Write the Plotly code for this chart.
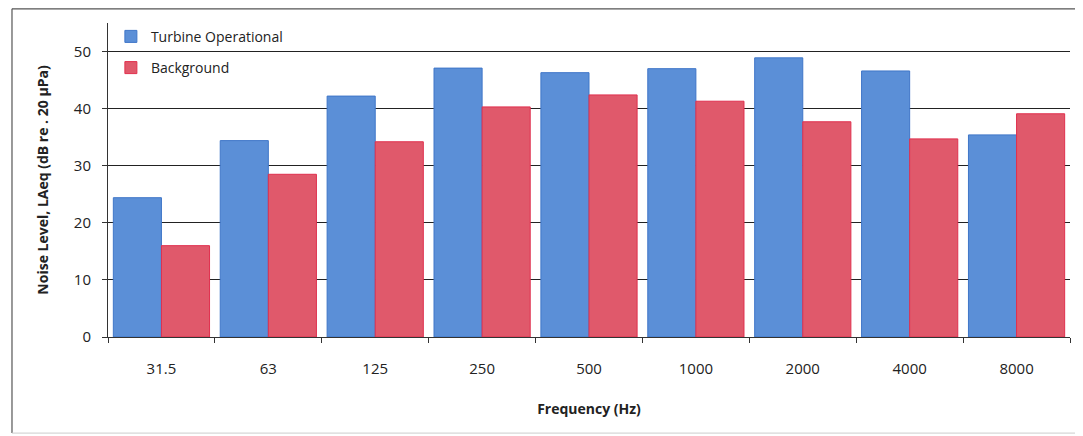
import plotly.graph_objects as go

# octave band centre frequencies (Hz)
freqs = ["31.5", "63", "125", "250", "500", "1000", "2000", "4000", "8000"]
turbine_db = [24.4, 34.4, 42.2, 47.1, 46.3, 47.0, 48.9, 46.6, 35.4]
background_db = [16.0, 28.5, 34.2, 40.3, 42.4, 41.3, 37.7, 34.7, 39.1]

blue = "#5b8fd7"
red = "#e0596b"

fig = go.Figure()
fig.add_trace(go.Bar(x=freqs, y=turbine_db, name="Turbine Operational",
                     marker=dict(color=blue, line=dict(color="#3f76c8", width=1)),
                     legendgroup="a"))
fig.add_trace(go.Bar(x=freqs, y=background_db, name="Background",
                     marker=dict(color=red, line=dict(color="#e0304e", width=1)),
                     legendgroup="b"))

# outer frame edges (paper coords), no right edge in the scan
frame = dict(type="line", xref="paper", yref="paper")
shapes = [
    dict(frame, x0=-0.0998, x1=-0.0998, y0=-0.306, y1=1.045, line=dict(color="#555", width=1.2)),
    dict(frame, x0=-0.0998, x1=1.02, y0=1.045, y1=1.045, line=dict(color="#555", width=1.2)),
    dict(frame, x0=-0.0998, x1=1.02, y0=-0.306, y1=-0.306, line=dict(color="#ccc", width=1)),
]

# page body has an 8px margin, so the figure is sized/offset to match
fig.update_layout(
    width=1075, height=428,
    margin=dict(l=100, r=13, t=15, b=99, autoexpand=False),
    paper_bgcolor="white", plot_bgcolor="white",
    font=dict(family="Open Sans", size=14, color="#222"),
    barmode="group", bargap=0.1, bargroupgap=0,
    showlegend=True,
    legend=dict(x=0.003, y=1.007, xanchor="left", yanchor="top",
                bgcolor="rgba(0,0,0,0)", font=dict(size=14),
                tracegroupgap=10, itemwidth=30),
    xaxis=dict(type="category", showgrid=False, showline=True, linecolor="#333",
               linewidth=1, ticks="outside", tickson="boundaries", ticklen=5,
               tickcolor="#333", automargin=False, ticklabelstandoff=18,
               tickfont=dict(size=15),
               title=dict(text="<b>Frequency (Hz)</b>", font=dict(size=14), standoff=27)),
    yaxis=dict(range=[0, 55], tickvals=[0, 10, 20, 30, 40, 50], showgrid=True,
               gridcolor="#222", gridwidth=1, showline=True, linecolor="#333",
               linewidth=1, ticks="outside", ticklen=5, tickcolor="#333",
               zeroline=False, tickfont=dict(size=15), automargin=False,
               ticklabelstandoff=8,
               title=dict(text="<b>Noise Level, LAeq (dB re . 20 µPa)</b>",
                          font=dict(size=14), standoff=21)),
    shapes=shapes,
)

fig.write_html("out.html")
